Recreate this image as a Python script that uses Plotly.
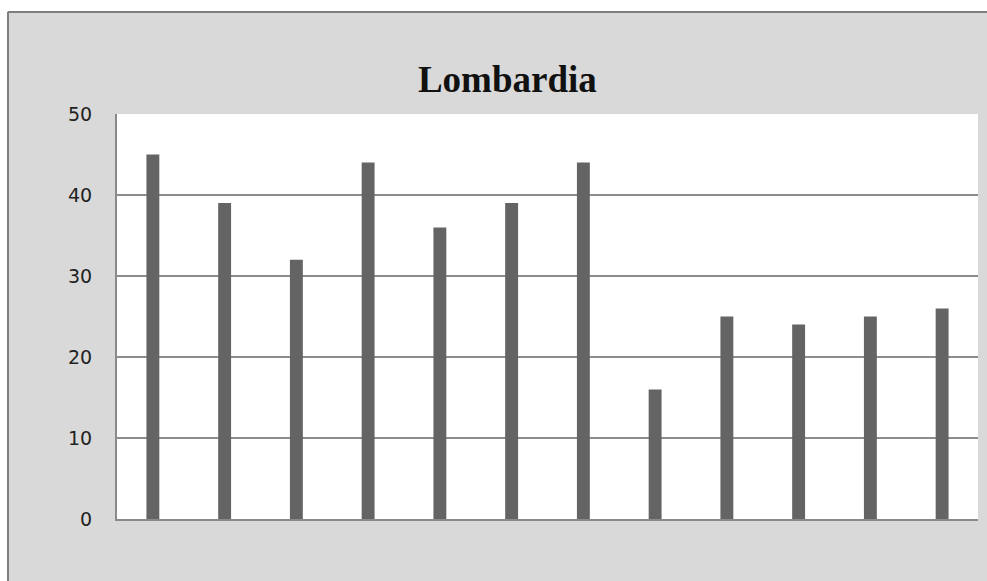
import plotly.graph_objects as go

categories = ["1", "2", "3", "4", "5", "6", "7", "8", "9", "10", "11", "12"]
values = [45, 39, 32, 44, 36, 39, 44, 16, 25, 24, 25, 26]
y_ticks = [0, 10, 20, 30, 40, 50]
title_text = "Lombardia"

W, H = 987, 581
L, R, T, B = 117, 9, 114, 62
pw, ph = W - L - R, H - T - B

def px_x(p):
    return (p - L) / pw

def px_y(p):
    return (H - B - p) / ph

fig = go.Figure(go.Bar(
    x=categories, y=values,
    marker=dict(color="#646464", line=dict(width=0)),
))

shapes = [
    dict(type="rect", xref="paper", yref="paper", x0=px_x(-5), x1=px_x(7), y0=px_y(H + 5), y1=px_y(-5),
         fillcolor="white", line=dict(width=0), layer="above"),
    dict(type="rect", xref="paper", yref="paper", x0=px_x(-5), x1=px_x(W + 5), y0=px_y(11), y1=px_y(-5),
         fillcolor="white", line=dict(width=0), layer="above"),
    dict(type="line", xref="paper", yref="paper", x0=px_x(8), x1=px_x(8), y0=px_y(12), y1=px_y(H + 5),
         line=dict(color="#7f7f7f", width=2), layer="above"),
    dict(type="line", xref="paper", yref="paper", x0=px_x(8), x1=px_x(W + 5), y0=px_y(12), y1=px_y(12),
         line=dict(color="#7f7f7f", width=2), layer="above"),
]

fig.update_layout(
    width=W, height=H,
    margin=dict(l=L, r=R, t=T, b=B, pad=0),
    paper_bgcolor="#d9d9d9",
    plot_bgcolor="white",
    bargap=0.82,
    showlegend=False,
    title=dict(text="<b>" + title_text + "</b>", xref="container", yref="container",
               x=0.514, y=1 - 79 / H, xanchor="center", yanchor="middle",
               font=dict(family="Liberation Serif", size=37, color="#111")),
    xaxis=dict(range=[-0.5, 11.5], showticklabels=False, showgrid=False, zeroline=False,
               showline=True, linecolor="#8a8a8a", linewidth=2, ticks=""),
    yaxis=dict(range=[0, 50], tickvals=y_ticks, showgrid=True, gridcolor="#8c8c8c", gridwidth=1.5,
               zeroline=False, showline=True, linecolor="#8a8a8a", linewidth=2,
               ticks="outside", ticklen=19, tickcolor="rgba(0,0,0,0)",
               tickfont=dict(family="DejaVu Sans", size=19, color="#222")),
    shapes=shapes,
)

fig.write_html("out.html", config={"displayModeBar": False},
               post_script="document.body.style.margin='0';document.body.style.overflow='hidden';")
